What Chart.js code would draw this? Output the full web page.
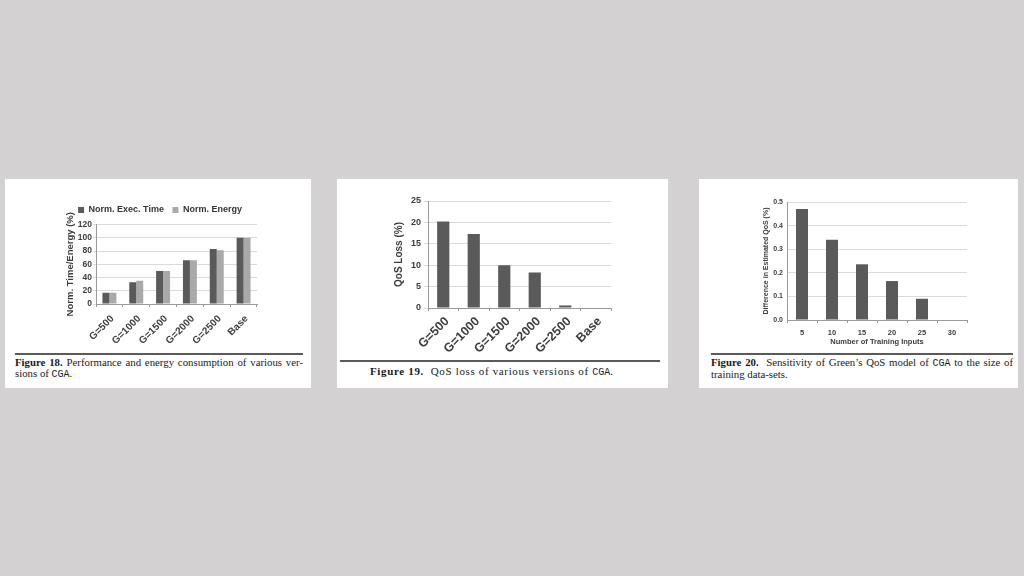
<!DOCTYPE html>
<html>
<head>
<meta charset="utf-8">
<script src="https://cdn.jsdelivr.net/npm/chart.js@4.4.1/dist/chart.umd.min.js"></script>
<style>
  html, body { margin: 0; padding: 0; }
  body { width: 1024px; height: 576px; background: #d3d1d2; position: relative; overflow: hidden; }
  .panel { position: absolute; background: #fff; }
  .panel canvas { position: absolute; left: 0; top: 0; }
  .rule { position: absolute; height: 1.5px; background: #5a5a5a; }
  .cap { position: absolute; font-family: "Liberation Serif", "DejaVu Serif", serif; font-size: 10.8px; line-height: 11px; color: #1a1a1a; white-space: nowrap; }
  .cap .full { text-align: justify; text-align-last: justify; }
  .cap code { font-family: "Liberation Mono", "DejaVu Sans Mono", monospace; font-size: 10px; letter-spacing: 0; }
</style>
</head>
<body>

<div class="panel" id="p1" style="left:5px; top:179px; width:306px; height:209px;">
  <canvas id="chart18" width="306" height="172"></canvas>
  <div class="rule" style="left:10px; top:174px; width:288px;"></div>
  <div class="cap" style="left:10px; top:178px; width:288px;">
    <div class="full"><b>Figure 18.</b> Performance and energy consumption of various ver-</div>
    <div>sions of <code>CGA</code>.</div>
  </div>
</div>

<div class="panel" id="p2" style="left:337px; top:179px; width:331px; height:209px;">
  <canvas id="chart19" width="331" height="175"></canvas>
  <div class="rule" style="left:3px; top:181px; width:320px;"></div>
  <div class="cap" style="left:33px; top:187px; font-size:11px; letter-spacing:0.65px;">
    <div><b>Figure 19.</b>&nbsp; QoS loss of various versions of <code>CGA</code>.</div>
  </div>
</div>

<div class="panel" id="p3" style="left:699px; top:179px; width:319px; height:209px;">
  <canvas id="chart20" width="319" height="170"></canvas>
  <div class="rule" style="left:12px; top:174px; width:302px;"></div>
  <div class="cap" style="left:12px; top:178px; width:302px;">
    <div class="full"><b>Figure 20.</b>&nbsp; Sensitivity of Green’s QoS model of <code>CGA</code> to the size of</div>
    <div>training data-sets.</div>
  </div>
</div>

<script>
// Figure 18 / 19 categories
const versions = ['G=500', 'G=1000', 'G=1500', 'G=2000', 'G=2500', 'Base'];
// Figure 18 series (%)
const normExecTime = [17, 33, 50, 66, 83, 100];
const normEnergy = [17, 35, 50, 66, 81, 100];
// Figure 19 series (%)
const qosLoss = [20.2, 17.3, 10.0, 8.3, 0.6, 0];
// Figure 20
const trainingInputs = ['5', '10', '15', '20', '25', '30'];
const qosDifference = [0.47, 0.34, 0.236, 0.165, 0.09, 0];

const tickColor = '#3c3c3c';
const gridColor = '#dadada';
const axisColor = '#9a9a9a';
const darkBar = '#5a5a5a';
const lightBar = '#a9a9a9';

Chart.defaults.font.family = '"Liberation Sans", Arial, sans-serif';
Chart.defaults.font.weight = 'bold';
Chart.defaults.color = tickColor;
Chart.defaults.animation = false;

// Figure 18: performance and energy
new Chart(document.getElementById('chart18'), {
    type: 'bar',
    data: {
        labels: versions,
        datasets: [{
            label: 'Norm. Exec. Time',
            data: normExecTime,
            backgroundColor: darkBar,
            categoryPercentage: 0.52,
            barPercentage: 1.0
        }, {
            label: 'Norm. Energy',
            data: normEnergy,
            backgroundColor: lightBar,
            categoryPercentage: 0.52,
            barPercentage: 1.0
        }]
    },
    options: {
        responsive: false,
        layout: { padding: { left: 58, right: 54, top: 18, bottom: 0 } },
        plugins: {
            legend: {
                position: 'top',
                labels: { boxWidth: 6, boxHeight: 6, padding: 8.5, font: { size: 9, weight: 'bold' }, color: '#333' }
            },
            tooltip: { enabled: false }
        },
        scales: {
            x: {
                afterFit: (s) => { s.height = 47; },
                grid: { display: true, drawOnChartArea: false, drawTicks: true, tickLength: 3, color: axisColor },
                border: { display: true, color: axisColor },
                ticks: { minRotation: 45, maxRotation: 45, padding: 6, labelOffset: 3, font: { size: 10, weight: 'bold' }, color: tickColor }
            },
            y: {
                min: 0,
                max: 120,
                afterFit: (s) => { s.width = 33; },
                grid: { color: gridColor, drawTicks: true, tickLength: 3 },
                border: { display: true, color: axisColor },
                ticks: { stepSize: 20, padding: 1, font: { size: 8.5, weight: 'bold' }, color: tickColor },
                title: { display: true, text: 'Norm. Time/Energy (%)', padding: 2, font: { size: 9.5, weight: 'bold' }, color: tickColor }
            }
        }
    }
});

// Figure 19: QoS loss
new Chart(document.getElementById('chart19'), {
    type: 'bar',
    data: {
        labels: versions,
        datasets: [{
            label: 'QoS Loss',
            data: qosLoss,
            backgroundColor: darkBar,
            categoryPercentage: 1.0,
            barPercentage: 0.4
        }]
    },
    options: {
        responsive: false,
        layout: { padding: { left: 54, right: 57, top: 22, bottom: 0 } },
        plugins: { legend: { display: false }, tooltip: { enabled: false } },
        scales: {
            x: {
                afterFit: (s) => { s.height = 46; },
                grid: { display: true, drawOnChartArea: false, drawTicks: true, tickLength: 3, color: axisColor },
                border: { display: true, color: axisColor },
                ticks: { minRotation: 45, maxRotation: 45, padding: 3, labelOffset: 4, font: { size: 12.5, weight: 'bold' }, color: tickColor }
            },
            y: {
                min: 0,
                max: 25,
                afterFit: (s) => { s.width = 37; },
                grid: { color: gridColor, drawTicks: true, tickLength: 4 },
                border: { display: true, color: axisColor },
                ticks: { stepSize: 5, padding: 3, font: { size: 9, weight: 'bold' }, color: tickColor },
                title: { display: true, text: 'QoS Loss (%)', padding: 2, font: { size: 10, weight: 'bold' }, color: tickColor }
            }
        }
    }
});

// Figure 20: sensitivity to training set size
new Chart(document.getElementById('chart20'), {
    type: 'bar',
    data: {
        labels: trainingInputs,
        datasets: [{
            label: 'Difference',
            data: qosDifference,
            backgroundColor: darkBar,
            categoryPercentage: 1.0,
            barPercentage: 0.4
        }]
    },
    options: {
        responsive: false,
        layout: { padding: { left: 61, right: 51, top: 23, bottom: 0 } },
        plugins: { legend: { display: false }, tooltip: { enabled: false } },
        scales: {
            x: {
                afterFit: (s) => { s.height = 29; },
                grid: { display: true, drawOnChartArea: false, drawTicks: true, tickLength: 3, color: axisColor },
                border: { display: true, color: axisColor },
                ticks: { padding: 5, font: { size: 7.5, weight: 'bold' }, color: tickColor },
                title: { display: true, text: 'Number of Training Inputs', padding: { top: 0, bottom: 3 }, font: { size: 7.5, weight: 'bold' }, color: tickColor }
            },
            y: {
                min: 0,
                max: 0.5,
                afterFit: (s) => { s.width = 27; },
                grid: { color: gridColor, drawTicks: false },
                border: { display: true, color: axisColor },
                ticks: { stepSize: 0.1, padding: 4, font: { size: 7, weight: 'bold' }, color: tickColor, callback: (v) => v.toFixed(1) },
                title: { display: true, text: 'Difference in Estimated QoS (%)', padding: 2, font: { size: 7, weight: 'bold' }, color: tickColor }
            }
        }
    }
});
</script>
</body>
</html>
